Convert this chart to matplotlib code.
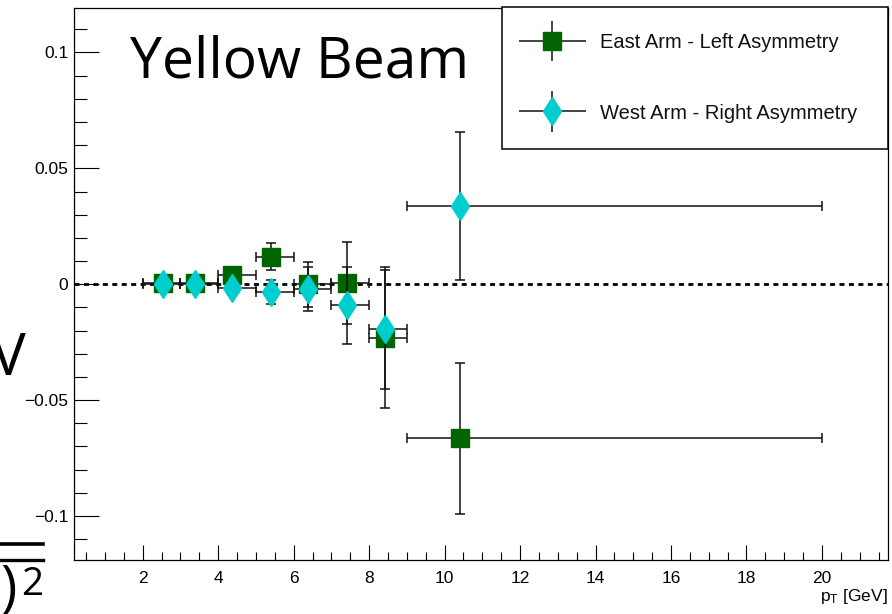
import matplotlib
matplotlib.use("Agg")
import matplotlib.pyplot as plt
import numpy as np
from matplotlib.lines import Line2D
from matplotlib.ticker import MultipleLocator
from matplotlib.legend_handler import HandlerErrorbar
from matplotlib.container import ErrorbarContainer

# pT bins and mean pT per bin
bin_lo = [2, 3, 4, 5, 6, 7, 8, 9]
bin_hi = [3, 4, 5, 6, 7, 8, 9, 20]
pt_mean = [2.53, 3.38, 4.38, 5.40, 6.39, 7.41, 8.42, 10.40]

# East arm - left asymmetry
east_asym = [0.0005, 0.0005, 0.0038, 0.0118, 0.0, 0.0005, -0.023, -0.0665]
east_err = [0.0015, 0.0015, 0.003, 0.0058, 0.0097, 0.0178, 0.0305, 0.0327]

# West arm - right asymmetry
west_asym = [0.0, 0.0, -0.0016, -0.0033, -0.0022, -0.0091, -0.0195, 0.0338]
west_err = [0.0015, 0.0015, 0.003, 0.0052, 0.0095, 0.0165, 0.0255, 0.0318]

GREEN = "#006400"
CYAN = "#00CDCD"

plt.rcParams["font.family"] = ["Liberation Sans", "DejaVu Sans"]
plt.rcParams["mathtext.fontset"] = "custom"
plt.rcParams["mathtext.rm"] = "Liberation Sans"
plt.rcParams["mathtext.it"] = "Liberation Sans"

W, H = 892, 614
fig = plt.figure(figsize=(W / 100, H / 100), dpi=100)
ax = fig.add_axes([74 / W, 1 - 560 / H, 814 / W, 552 / H])

x = np.array(pt_mean)
xerr = [x - np.array(bin_lo), np.array(bin_hi) - x]

ax.axhline(0, color="black", lw=2, ls=(0, (1.8, 1.6)), zorder=1)

ax.errorbar(x, east_asym, xerr=xerr, yerr=east_err, fmt="s", ms=12.5,
            color=GREEN, mec=GREEN, ecolor="#111111", elinewidth=1.1,
            capsize=3.5, capthick=1.1, zorder=3)
ax.errorbar(x, west_asym, xerr=xerr, yerr=west_err, fmt="d", ms=14.5,
            color=CYAN, mec=CYAN, ecolor="#111111", elinewidth=1.1,
            capsize=3.5, capthick=1.1, zorder=4)

ax.set_xlim(0.18, 21.75)
ax.set_ylim(-0.119, 0.1192)

ax.xaxis.set_major_locator(MultipleLocator(2))
ax.xaxis.set_minor_locator(MultipleLocator(0.5))
ax.yaxis.set_major_locator(MultipleLocator(0.05))
ax.yaxis.set_minor_locator(MultipleLocator(0.01))
ax.set_xticks([2, 4, 6, 8, 10, 12, 14, 16, 18, 20])
ax.set_yticks([-0.1, -0.05, 0, 0.05, 0.1])
ax.set_yticklabels(["\u22120.1", "\u22120.05", "0", "0.05", "0.1"])

ax.tick_params(axis="both", which="both", direction="in", top=False,
               right=False, width=0.8, labelsize=12.5)
ax.tick_params(axis="y", which="major", length=18, pad=4)
ax.tick_params(axis="y", which="minor", length=9.5)
ax.tick_params(axis="x", which="major", length=11, pad=8)
ax.tick_params(axis="x", which="minor", length=5.5)
for s in ax.spines.values():
    s.set_linewidth(0.9)

ax.set_xlabel(r"p$_{\mathrm{T}}$ [GeV]", loc="right", fontsize=12.5,
              labelpad=1)

# legend with proxy error bars (no caps), like ROOT's legend
h_east = ax.errorbar([], [], xerr=[], yerr=[], fmt="s", ms=12.5, color=GREEN,
                     ecolor="#111111", elinewidth=1.1, capsize=0)
h_west = ax.errorbar([], [], xerr=[], yerr=[], fmt="d", ms=14.5, color=CYAN,
                     ecolor="#111111", elinewidth=1.1, capsize=0)
leg = ax.legend([h_east, h_west],
                ["East Arm - Left Asymmetry", "West Arm - Right Asymmetry"],
                loc="upper left",
                bbox_to_anchor=(502 / W, 1 - 7 / H - 0.01, 386 / W, 0.01),
                bbox_transform=fig.transFigure, mode="expand", borderaxespad=0,
                fontsize=14.5, handlelength=2.4, handleheight=0.7,
                handletextpad=1.15, borderpad=1.3, labelspacing=2.55,
                fancybox=False, framealpha=1, edgecolor="black",
                handler_map={ErrorbarContainer: HandlerErrorbar(xerr_size=1.66,
                                                                yerr_size=1.0)})
leg.get_frame().set_linewidth(1.1)
for t in leg.get_texts():
    t.set_color("#111111")

# slide text around the plot
fig.text(130 / W, 1 - 78 / H, "Yellow Beam", fontsize=41, family="Open Sans",
         ha="left", va="baseline")
fig.text(-9 / W, 1 - 375 / H, "V", fontsize=42, family="Open Sans",
         ha="left", va="baseline")
fig.text(0 / W, 1 - 606 / H, ")", fontsize=40, family="Open Sans",
         ha="left", va="baseline")
fig.text(21 / W, 1 - 595 / H, "2", fontsize=28, family="Open Sans",
         ha="left", va="baseline")
for yy, lw in [(544, 2.6), (560, 2.4)]:
    fig.add_artist(Line2D([0, 43 / W], [1 - yy / H, 1 - yy / H], lw=lw,
                          color="black", transform=fig.transFigure))

fig.savefig("out.png", dpi=100)
